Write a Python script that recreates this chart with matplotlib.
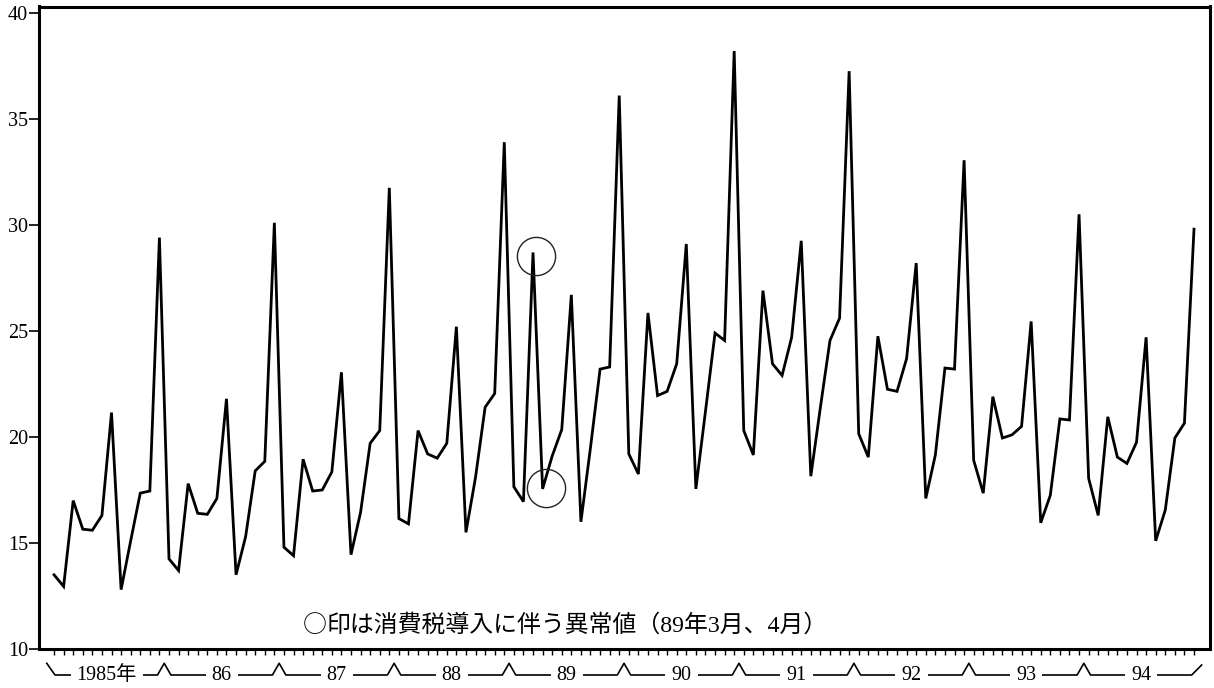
import matplotlib
matplotlib.use("Agg")
import matplotlib.pyplot as plt
import matplotlib.transforms as mtransforms
import numpy as np

# ---- data (monthly, 1985/01 - 1994/12) ----
years = ["1985年", "86", "87", "88", "89", "90", "91", "92", "93", "94"]
v1985 = [13.5, 12.95, 17.0, 15.65, 15.6, 16.3, 21.15, 12.8, 15.1, 17.35, 17.45, 29.4]
v1986 = [14.25, 13.7, 17.8, 16.4, 16.35, 17.1, 21.8, 13.5, 15.3, 18.4, 18.85, 30.1]
v1987 = [14.8, 14.4, 18.95, 17.45, 17.5, 18.35, 23.05, 14.45, 16.45, 19.7, 20.3, 31.75]
v1988 = [16.15, 15.9, 20.3, 19.2, 19.0, 19.7, 25.2, 15.5, 18.1, 21.4, 22.05, 33.9]
v1989 = [17.65, 16.95, 28.7, 17.55, 19.1, 20.35, 26.7, 16.0, 19.5, 23.2, 23.3, 36.1]
v1990 = [19.2, 18.25, 25.85, 21.95, 22.15, 23.45, 29.1, 17.55, 21.2, 24.9, 24.55, 38.2]
v1991 = [20.3, 19.15, 26.9, 23.45, 22.9, 24.7, 29.25, 18.15, 21.4, 24.55, 25.6, 37.25]
v1992 = [20.15, 19.05, 24.75, 22.25, 22.15, 23.7, 28.2, 17.1, 19.15, 23.25, 23.2, 33.05]
v1993 = [18.9, 17.35, 21.9, 19.95, 20.1, 20.5, 25.45, 15.95, 17.25, 20.85, 20.8, 30.5]
v1994 = [18.05, 16.3, 20.95, 19.05, 18.75, 19.75, 24.7, 15.1, 16.55, 19.95, 20.65, 29.8]
values = v1985 + v1986 + v1987 + v1988 + v1989 + v1990 + v1991 + v1992 + v1993 + v1994
outlier_idx = [50, 51]  # 1989 Mar, Apr
yticks = [10, 15, 20, 25, 30, 35, 40]
note = "印は消費税導入に伴う異常値（89年3月、4月）"

# ---- figure ----
W, H = 1214, 688
fig = plt.figure(figsize=(W / 100, H / 100), dpi=100)
left, right, top, bottom = 39, 1210, 6.5, 649
ax = fig.add_axes([left / W, 1 - bottom / H, (right - left) / W, (bottom - top) / H])

serif = ["Liberation Serif", "Noto Sans CJK JP"]
cjk = ["Noto Sans CJK JP"]

x = np.arange(len(values))
ax.plot(x, values, color="black", lw=2.0, solid_joinstyle="miter")

# circles for outliers (slightly offset, as in the original)
offsets = [(3, -4), (3.5, 1)]
for idx, (dx, dy) in zip(outlier_idx, offsets):
    tr = ax.transData + mtransforms.ScaledTranslation(dx / 100, dy / 100, fig.dpi_scale_trans)
    ax.plot([x[idx]], [values[idx]], linestyle="none", marker="o", transform=tr,
            markersize=27.5, markerfacecolor="none", markeredgecolor="#222222",
            markeredgewidth=1.0)

ax.set_xlim(-1.57, 120.67)
ax.set_ylim(10, 40.3)

for s in ax.spines.values():
    s.set_linewidth(2.2)
    s.set_color("black")

ax.set_yticks(yticks)
ax.set_yticklabels([str(t) for t in yticks], fontfamily=serif, fontsize=14.5)
ax.tick_params(axis="y", direction="out", length=7, width=1.2, pad=1, colors="black")
ax.set_xticks(x)
ax.set_xticklabels([])
ax.tick_params(axis="x", direction="out", length=4.5, width=1.0, colors="black")

# bracket-style year axis below
ph = bottom - top
def yfrac(p):
    return (bottom - p) / ph

yb = yfrac(675)
yp = yfrac(663.3)
bx = [-0.76, 0.1]
by = [yp, yb]
for k in range(1, len(years)):
    b = 12 * k - 0.5
    bx += [b - 0.7, b, b + 0.7]
    by += [yb, yp, yb]
bx += [118.76, 119.8]
by += [yb, yfrac(665)]
ax.plot(bx, by, color="black", lw=1.2, transform=ax.get_xaxis_transform(), clip_on=False)

for k, lab in enumerate(years):
    ax.text(12 * k + 5.5, yfrac(676), lab, transform=ax.get_xaxis_transform(),
            ha="center", va="center", fontsize=14.5, family=serif,
            bbox=dict(boxstyle="square,pad=0.3", fc="white", ec="none"))

# annotation
fs_note = 17.2
xa = (303 - 54) / 9.58
ya = 10 + (649 - 632) / 21.22
ax.text(xa, ya, "○", ha="left", va="baseline", fontsize=fs_note, family=cjk)
ax.annotate(note, xy=(xa, ya), xytext=(fs_note, 0), textcoords="offset points",
            ha="left", va="baseline", fontsize=fs_note, family=serif)

fig.savefig("out.png", dpi=100)
